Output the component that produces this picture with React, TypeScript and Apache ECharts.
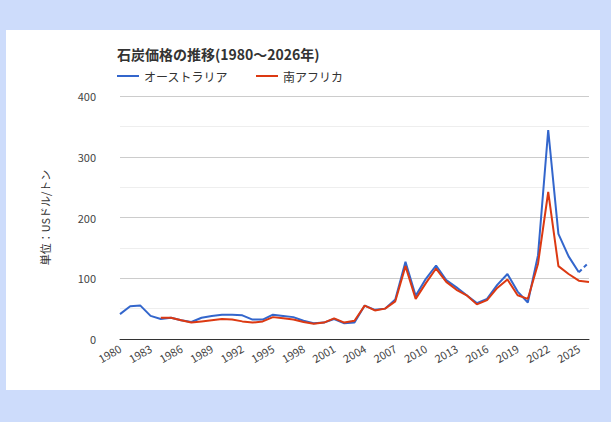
import { useEffect, useRef } from "react";
import * as echarts from "echarts";

const years = Array.from({ length: 47 }, (_, i) => String(1980 + i));

const australia = [
  41, 54, 55, 38, 33, 35, 31, 28, 35, 38, 40, 40, 39, 32, 32, 40, 38, 36, 30, 26,
  27, 33, 26, 27, 55, 48, 50, 65, 127, 71, 99, 121, 97, 85, 72, 59, 66, 89, 107, 78,
  60, 138, 344, 173, 136, 110, null,
];
const australiaForecast: (number | null)[] = years.map(() => null);
australiaForecast[45] = 110;
australiaForecast[46] = 126;

const southAfrica = [
  null, null, null, null, 35, 35, 31, 27, 29, 31, 33, 32, 29, 27, 29, 36, 34, 32, 28, 25,
  27, 34, 27, 30, 55, 47, 50, 62, 120, 66, 92, 116, 94, 81, 72, 57, 64, 84, 98, 72,
  66, 124, 242, 120, 107, 96, 94,
];

const font = "'Noto Sans CJK JP', 'Noto Sans', sans-serif";

export default function App() {
  const ref = useRef<HTMLDivElement | null>(null);

  useEffect(() => {
    document.body.style.margin = "0";
    if (!ref.current) return;
    const chart = echarts.init(ref.current, null, { renderer: "svg" });
    chart.setOption({
      animation: false,
      backgroundColor: "#cddcfb",
      textStyle: { fontFamily: font },
      graphic: [
        { type: "rect", z: -10, shape: { x: 6, y: 30, width: 594, height: 360 }, style: { fill: "#fff" } },
      ],
      title: {
        text: "石炭価格の推移(1980～2026年)",
        left: 112,
        top: 42,
        textStyle: { fontSize: 14, fontWeight: "bold", color: "#333", fontFamily: font },
      },
      legend: {
        left: 112,
        top: 65,
        itemWidth: 22,
        itemHeight: 2,
        itemGap: 28,
        icon: "rect",
        data: ["オーストラリア", "南アフリカ"],
        textStyle: { fontSize: 12, color: "#333" },
      },
      grid: { left: 120, right: 22, top: 96, bottom: 83 },
      xAxis: {
        type: "category",
        data: years,
        boundaryGap: false,
        axisLine: { lineStyle: { color: "#333" } },
        axisTick: { show: false },
        axisLabel: {
          interval: 2,
          rotate: 30,
          color: "#444",
          fontSize: 11,
        },
      },
      yAxis: {
        type: "value",
        name: "単位：USドル/トン",
        nameLocation: "middle",
        nameGap: 70,
        nameRotate: 90,
        nameTextStyle: { color: "#333", fontSize: 11 },
        min: 0,
        max: 400,
        interval: 100,
        axisLine: { show: false },
        axisTick: { show: false },
        axisLabel: { color: "#444", fontSize: 11, margin: 24 },
        splitLine: { lineStyle: { color: "#ccc" } },
        minorTick: { show: false, splitNumber: 2 },
        minorSplitLine: { show: true, lineStyle: { color: "#eee" } },
      },
      series: [
        {
          name: "オーストラリア",
          type: "line",
          data: australia,
          symbol: "none",
          lineStyle: { color: "#3366cc", width: 2 },
          itemStyle: { color: "#3366cc" },
        },
        {
          name: "オーストラリア予測",
          type: "line",
          data: australiaForecast,
          symbol: "none",
          lineStyle: { color: "#3366cc", width: 2, type: [4, 3] },
        },
        {
          name: "南アフリカ",
          type: "line",
          data: southAfrica,
          symbol: "none",
          lineStyle: { color: "#dc3912", width: 2 },
          itemStyle: { color: "#dc3912" },
        },
      ],
    });
    return () => chart.dispose();
  }, []);

  return <div ref={ref} style={{ width: 611, height: 422 }} />;
}
